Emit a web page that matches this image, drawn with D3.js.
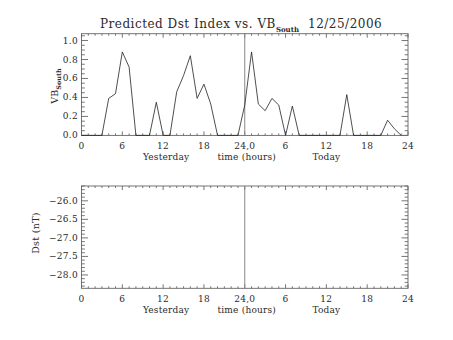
<!DOCTYPE html>
<html><head><meta charset="utf-8">
<script src="https://cdn.jsdelivr.net/npm/d3@7"></script>
<style>body{margin:0;background:#fff}svg{display:block}text{font-family:"DejaVu Serif",serif;fill:#2a2a2a}</style>
</head><body><svg id="c" width="453" height="340"></svg>
<script>
// Hours since start of "yesterday" (0..47)
const hours = d3.range(0, 48);
const vbSouth = [0,0,0,0,0.39,0.44,0.88,0.72,0,0,0,0.35,0,0,0.46,0.63,0.84,0.39,0.54,0.33,0,0,0,0,
                 0.32,0.88,0.33,0.26,0.39,0.32,0,0.31,0,0,0,0,0,0,0,0.43,0,0,0,0,0,0.16,0.07,0];
const dst = []; // no Dst predictions plotted
const xTicks = [0,6,12,18,24,30,36,42,48];
const xTickLabels = ["0","6","12","18","24,0","6","12","18","24"];
const vbTicks = [0,0.2,0.4,0.6,0.8,1.0];
const dstTicks = [-28,-27.5,-27,-26.5,-26];
const dayLabels = [{h:12,t:"Yesterday"},{h:24,t:"time (hours)"},{h:36,t:"Today"}];

const svg = d3.select("#c");
const L = 81.5, R = 408;
const x = d3.scaleLinear().domain([0,48]).range([L,R]);

function panel(top, bottom, ydom, yticks, yminorStep, fmt, series) {
  const y = d3.scaleLinear().domain(ydom).range([bottom, top]);
  const g = svg.append("g");
  const ax = "#666";
  g.append("rect").attr("x",L).attr("y",top).attr("width",R-L).attr("height",bottom-top)
    .attr("fill","none").attr("stroke",ax).attr("stroke-width",0.9);
  d3.range(0,49,1).forEach(h=>{
    const len = (h%6===0)?4:2;
    g.append("line").attr("x1",x(h)).attr("x2",x(h)).attr("y1",bottom).attr("y2",bottom-len).attr("stroke",ax).attr("stroke-width",0.9);
    g.append("line").attr("x1",x(h)).attr("x2",x(h)).attr("y1",top).attr("y2",top+len).attr("stroke",ax).attr("stroke-width",0.9);
  });
  const yminor = d3.range(Math.ceil(ydom[0]/yminorStep-1e-6)*yminorStep, ydom[1]+1e-9, yminorStep);
  yminor.forEach(v=>{
    const major = yticks.some(t=>Math.abs(t-v)<1e-6);
    const len = major?6.5:3.3;
    g.append("line").attr("x1",L).attr("x2",L+len).attr("y1",y(v)).attr("y2",y(v)).attr("stroke",ax).attr("stroke-width",0.9);
    g.append("line").attr("x1",R).attr("x2",R-len).attr("y1",y(v)).attr("y2",y(v)).attr("stroke",ax).attr("stroke-width",0.9);
  });
  xTicks.forEach((h,i)=>{
    g.append("text").attr("x",x(h)).attr("y",bottom+13.5).attr("text-anchor","middle")
      .attr("font-size",9).attr("letter-spacing",0.3).text(xTickLabels[i]);
  });
  dayLabels.forEach(d=>{
    g.append("text").attr("x",x(d.h)+(d.h===12?3:(d.h===36?0:2))).attr("y",bottom+24.5).attr("text-anchor","middle")
      .attr("font-size",9).attr("letter-spacing",0.2).text(d.t);
  });
  yticks.forEach(v=>{
    g.append("text").attr("x",78).attr("y",y(v)+3).attr("text-anchor","end")
      .attr("font-size",9).attr("letter-spacing",0.3).text(fmt(v));
  });
  g.append("line").attr("x1",x(24)).attr("x2",x(24)).attr("y1",top).attr("y2",bottom)
    .attr("stroke","#888").attr("stroke-width",1);
  if (series.length) {
    g.append("path").datum(series).attr("fill","none").attr("stroke","#222").attr("stroke-width",0.8)
      .attr("d", d3.line().x((d,i)=>x(hours[i])).y(d=>y(d)));
  }
  return {g,y};
}

panel(33.7, 135.4, [0,1.072], vbTicks, 0.05, d3.format(".1f"), vbSouth);
panel(186, 288.3, [-28.36,-25.6], dstTicks, 0.1, v=>d3.format(".1f")(v).replace("-","\u2212"), dst);

const yl1 = svg.append("text").attr("transform","translate(58,86) rotate(-90)").attr("text-anchor","middle").attr("font-size",9.5);
yl1.append("tspan").text("VB");
yl1.append("tspan").attr("font-size",6.5).attr("font-weight","bold").attr("dy",3).text("South");
svg.append("text").attr("transform","translate(39,233) rotate(-90)").attr("text-anchor","middle")
  .attr("font-size",9.5).attr("letter-spacing",0.3).text("Dst (nT)");

const t = svg.append("text").attr("x",100).attr("y",27.5).attr("font-size",12).attr("letter-spacing",0.5);
t.append("tspan").text("Predicted Dst Index vs. VB");
t.append("tspan").attr("font-size",7).attr("font-weight","bold").attr("letter-spacing",0).attr("dy",4.5).text("South");
t.append("tspan").attr("x",308).attr("dy",-4.5).text("12/25/2006");
</script></body></html>
